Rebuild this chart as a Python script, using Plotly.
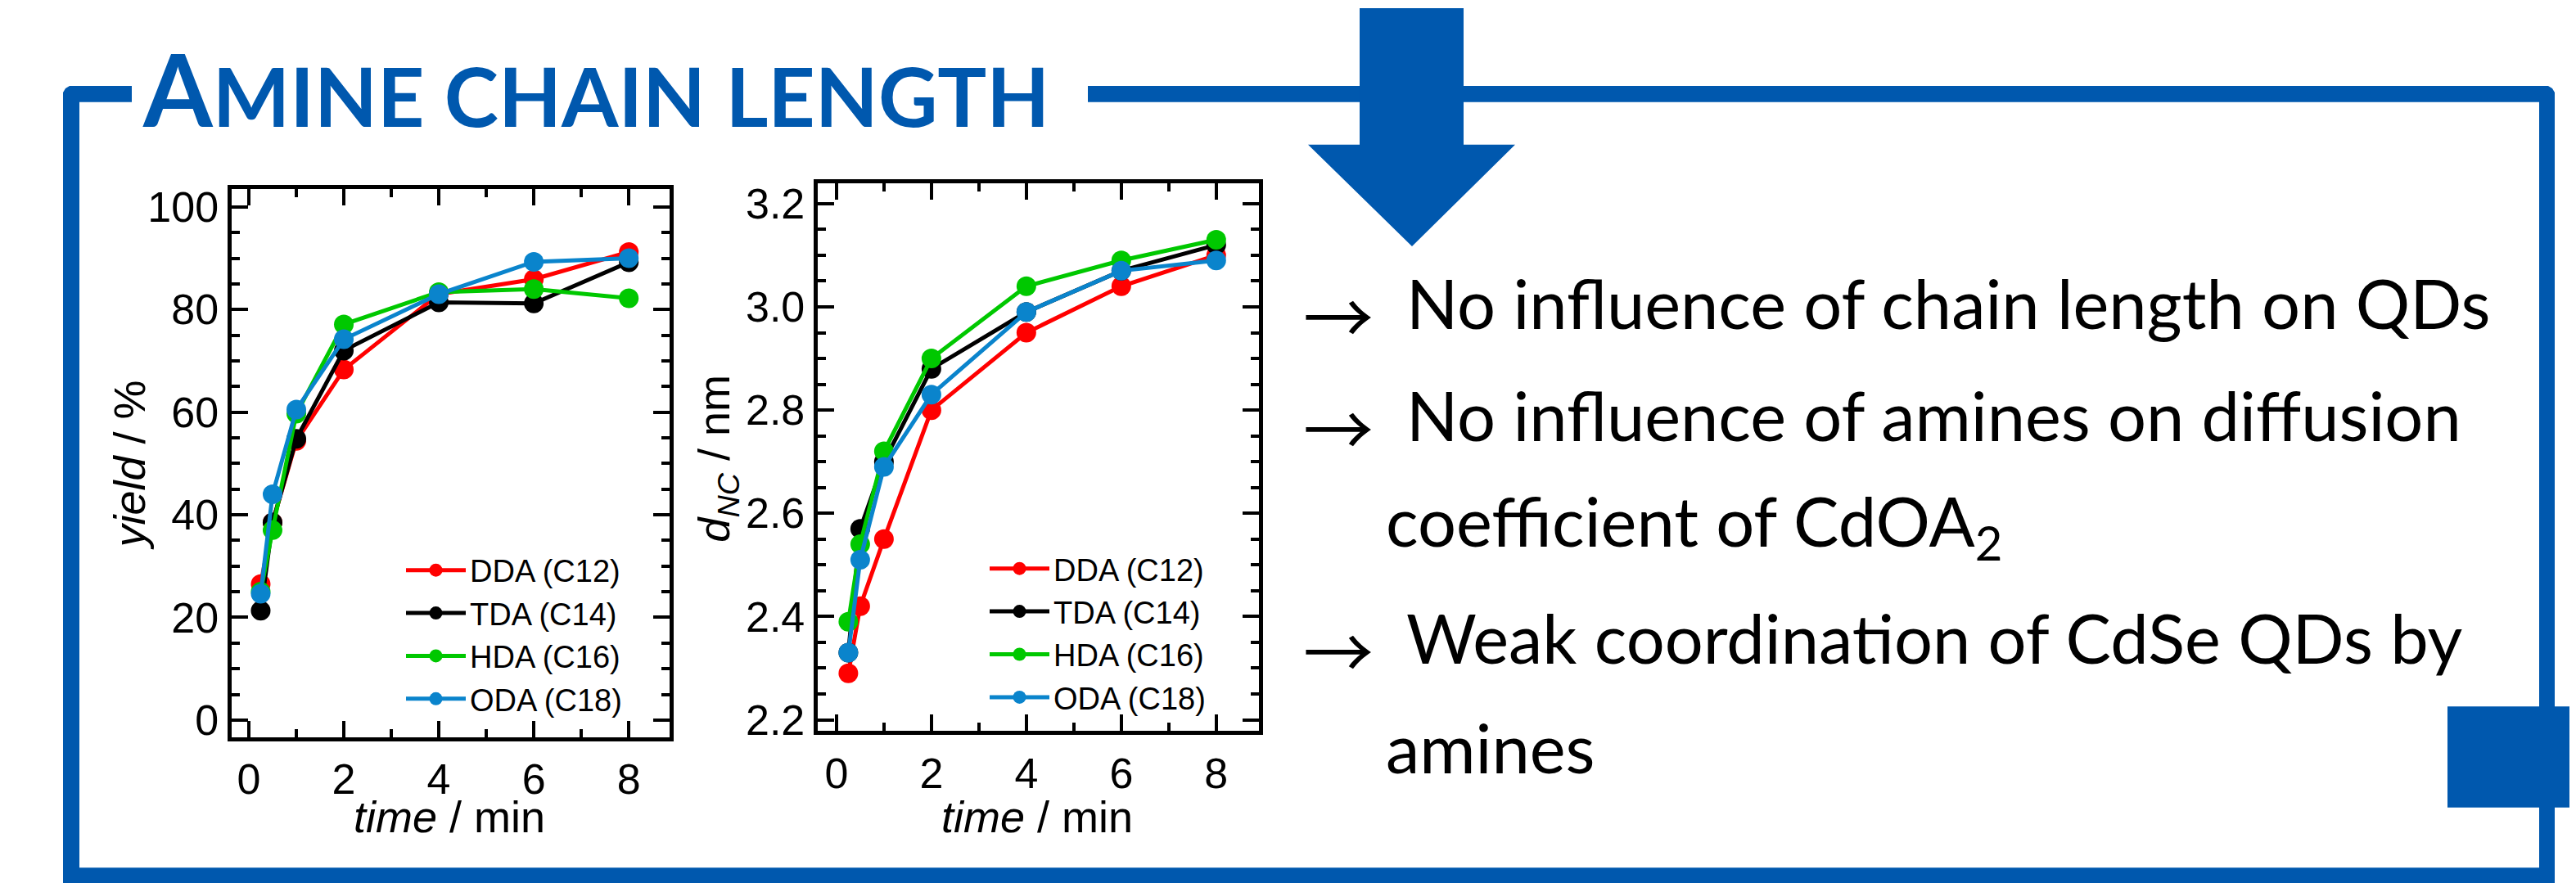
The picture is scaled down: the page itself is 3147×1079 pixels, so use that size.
import plotly.graph_objects as go

W, H = 3147, 1079
BLUE = "#0058AE"

time_min = [0.25, 0.5, 1, 2, 4, 6, 8]
series_names = ["DDA (C12)", "TDA (C14)", "HDA (C16)", "ODA (C18)"]
series_colors = ["#ff0000", "#000000", "#00c800", "#0a84cc"]

yield_dda = [26.5, 38.5, 54.4, 68.3, 83.0, 85.9, 91.2]
yield_tda = [21.3, 38.5, 54.8, 72.0, 81.4, 81.2, 89.2]
yield_hda = [25.0, 37.0, 59.7, 77.1, 83.4, 84.0, 82.2]
yield_oda = [24.6, 44.0, 60.5, 74.2, 83.0, 89.3, 90.0]

dnc_dda = [2.29, 2.42, 2.55, 2.80, 2.95, 3.04, 3.10]
dnc_tda = [2.33, 2.57, 2.70, 2.88, 2.99, 3.07, 3.12]
dnc_hda = [2.39, 2.54, 2.72, 2.90, 3.04, 3.09, 3.13]
dnc_oda = [2.33, 2.51, 2.69, 2.83, 2.99, 3.07, 3.09]

title_first = "A"
title_rest = "MINE CHAIN LENGTH"
bullet_lines = [
    ("→", "No influence of chain length on QDs"),
    ("→", "No influence of amines on diffusion"),
    ("", "coefficient of CdOA<sub>2</sub>"),
    ("→", "Weak coordination of CdSe QDs by"),
    ("", "amines"),
]
x_title = "<i>time</i> / min"
y_title_left = "<i>yield</i> / %"
y_title_right = "<i>d</i><sub><i>NC</i></sub> / nm"

yield_series = [yield_dda, yield_tda, yield_hda, yield_oda]
dnc_series = [dnc_dda, dnc_tda, dnc_hda, dnc_oda]


def px_x(x):
    return x / W


def px_y(y):
    return 1 - y / H


fig = go.Figure()

for name, col, ys in zip(series_names, series_colors, yield_series):
    fig.add_trace(go.Scatter(
        x=time_min, y=ys, name=name, mode="lines+markers",
        line=dict(color=col, width=5), marker=dict(color=col, size=24),
        xaxis="x", yaxis="y", legend="legend"))

for name, col, ys in zip(series_names, series_colors, dnc_series):
    fig.add_trace(go.Scatter(
        x=time_min, y=ys, name=name, mode="lines+markers",
        line=dict(color=col, width=5), marker=dict(color=col, size=24),
        xaxis="x2", yaxis="y2", legend="legend2"))

FONT = "Liberation Sans, Arial, sans-serif"
tickfont = dict(family=FONT, size=52, color="black")
titlefont = dict(family=FONT, size=54, color="black")
legfont = dict(family=FONT, size=38, color="black")

common_axis = dict(
    showline=True, linewidth=5, linecolor="black", mirror="allticks",
    ticks="inside", ticklen=20, tickwidth=4, tickcolor="black",
    showgrid=False, zeroline=False, tickfont=tickfont, tickmode="linear",
)
minor_common = dict(ticks="inside", ticklen=10, tickwidth=4, tickcolor="black")

fig.update_layout(
    width=W, height=H, margin=dict(l=0, r=0, t=0, b=0),
    paper_bgcolor="white", plot_bgcolor="rgba(0,0,0,0)",
    showlegend=True,
    xaxis=dict(common_axis, domain=[px_x(274.5), px_x(809.5)], range=[-0.37, 8.85],
               tick0=0, dtick=2, anchor="y", ticklabelstandoff=2,
               minor=dict(minor_common, dtick=1)),
    yaxis=dict(common_axis, domain=[px_y(904), px_y(221)], range=[-3.3, 103.4],
               tick0=0, dtick=20, anchor="x", minor=dict(minor_common, dtick=5)),
    xaxis2=dict(common_axis, domain=[px_x(990.7), px_x(1530)], range=[-0.40, 8.90],
                tick0=0, dtick=2, anchor="y2", ticklabelstandoff=2,
                minor=dict(minor_common, dtick=1)),
    yaxis2=dict(common_axis, domain=[px_y(896.7), px_y(213)], range=[2.178, 3.240],
                tick0=2.2, dtick=0.2, tickformat=".1f", anchor="x2",
                minor=dict(minor_common, dtick=0.05)),
    legend=dict(x=px_x(483), y=px_y(664), xanchor="left", yanchor="top",
                font=legfont, bgcolor="rgba(0,0,0,0)", itemwidth=73, tracegroupgap=0),
    legend2=dict(x=px_x(1196), y=px_y(662), xanchor="left", yanchor="top",
                 font=legfont, bgcolor="rgba(0,0,0,0)", itemwidth=73, tracegroupgap=0),
)

shapes = []


def px_path(points, closed=True):
    parts = []
    for i, (x, y) in enumerate(points):
        parts.append(("M " if i == 0 else "L ") + f"{px_x(x):.6f},{px_y(y):.6f}")
    return " ".join(parts) + (" Z" if closed else "")


def add_path(points):
    shapes.append(dict(type="path", path=px_path(points), xref="paper", yref="paper",
                       fillcolor=BLUE, line=dict(width=0), layer="above"))


# left L piece
add_path([(69, 1090), (69, 100), (72, 95), (77, 92), (153, 92), (153, 112), (89, 112), (89, 1090)])
# top line right part + right side
add_path([(1321, 92), (3105, 92), (3110, 95), (3113, 100), (3113, 1090), (3094, 1090), (3094, 112), (1321, 112)])
# bottom line
add_path([(69, 1067), (3113, 1067), (3113, 1090), (69, 1090)])
# big down arrow
add_path([(1653, -5), (1780, -5), (1780, 165), (1843, 165), (1717, 292), (1590, 165), (1653, 165)])
# square at lower right
add_path([(2982, 866), (3160, 866), (3160, 992), (2982, 992)])

annotations = []
annotations.append(dict(
    x=px_x(164), y=px_y(172), xref="paper", yref="paper", xanchor="left", yanchor="bottom",
    text=title_first + '<span style="font-size:100px">' + title_rest + "</span>",
    showarrow=False, font=dict(family="Lato", size=122, color=BLUE, weight=700),
))

# axis titles
for xc, yc in [(541, 1003), (1259, 1003)]:
    annotations.append(dict(x=px_x(xc), y=px_y(yc), xref="paper", yref="paper",
                            xanchor="center", yanchor="middle", text=x_title,
                            showarrow=False, font=titlefont))
annotations.append(dict(x=px_x(150), y=px_y(565), xref="paper", yref="paper",
                        xanchor="center", yanchor="middle", text=y_title_left,
                        textangle=-90, showarrow=False, font=titlefont))
annotations.append(dict(x=px_x(868), y=px_y(556), xref="paper", yref="paper",
                        xanchor="center", yanchor="middle", text=y_title_right,
                        textangle=-90, showarrow=False, font=titlefont))

baselines = [398, 538, 676, 816, 953]
for (arrow, txt), base in zip(bullet_lines, baselines):
    if arrow:
        annotations.append(dict(
            x=px_x(1582), y=px_y(base - 22), xref="paper", yref="paper",
            xanchor="left", yanchor="middle",
            text=arrow, showarrow=False,
            font=dict(family="Noto Sans CJK JP", size=86, color="black")))
        tx = 1708
    else:
        tx = 1683
    annotations.append(dict(
        x=px_x(tx), y=px_y(base - 36), xref="paper", yref="paper",
        xanchor="left", yanchor="middle",
        text=txt, showarrow=False,
        font=dict(family="Lato", size=83, color="black")))

fig.update_layout(shapes=shapes, annotations=annotations)

fig.write_html("out.html")
